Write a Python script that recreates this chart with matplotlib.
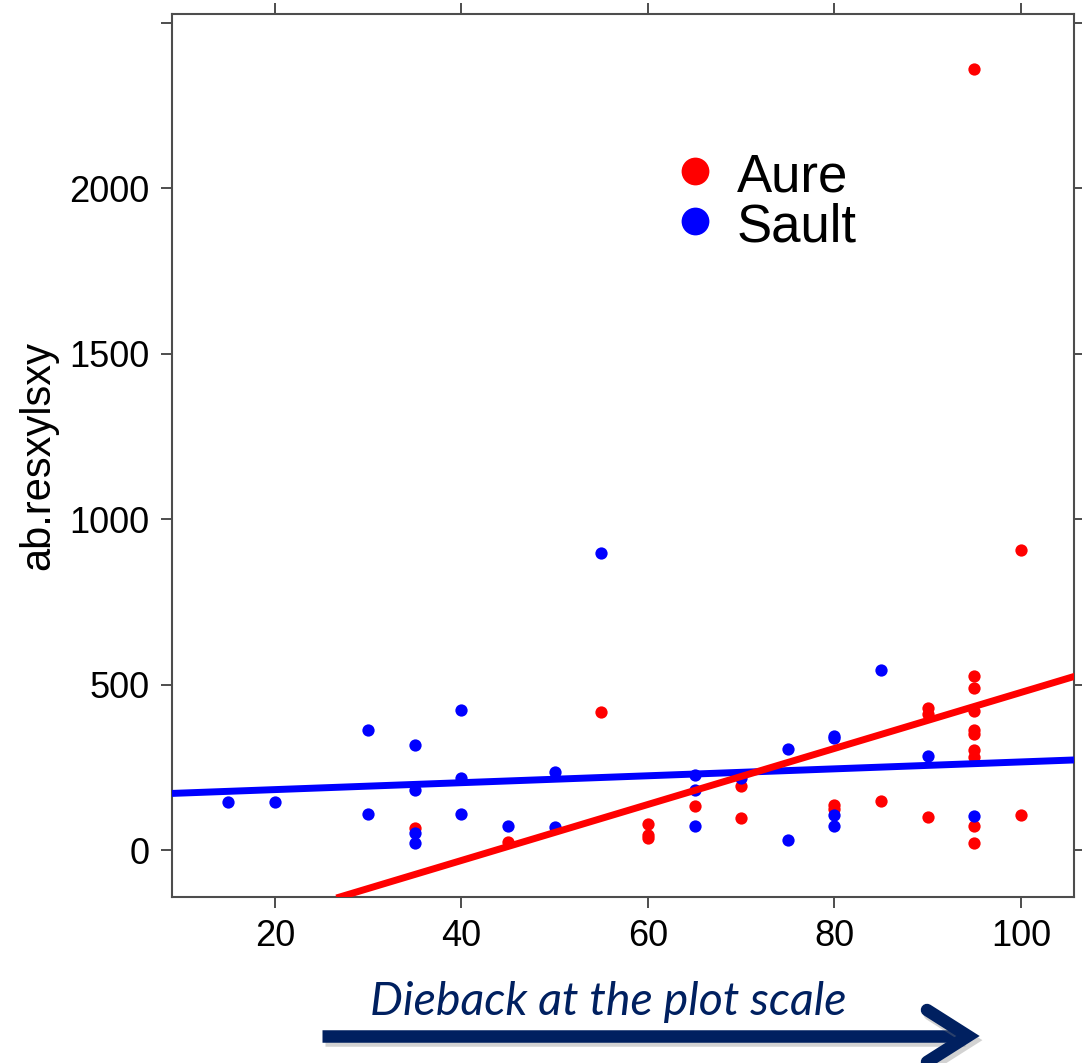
import matplotlib
matplotlib.use("Agg")
from matplotlib import pyplot as plt
from matplotlib.lines import Line2D
import matplotlib.patheffects as pe

plt.rcParams['font.family'] = ['Liberation Sans', 'DejaVu Sans']

# Aure (red)
aure_x = [35, 45, 55, 60, 60, 60, 65, 70, 70, 80, 80, 85, 90, 90, 90,
          95, 95, 95, 95, 95, 95, 95, 95, 95, 95, 100, 100]
aure_y = [65, 25, 418, 80, 45, 35, 134, 194, 97, 136, 125, 147, 429, 412, 100,
          2360, 527, 489, 421, 362, 352, 302, 280, 72, 22, 905, 106]

# Sault (blue)
sault_x = [15, 20, 30, 30, 35, 35, 35, 35, 40, 40, 40, 45, 50, 50, 55,
           65, 65, 65, 70, 75, 75, 80, 80, 80, 80, 85, 90, 95]
sault_y = [145, 145, 362, 109, 317, 181, 52, 22, 423, 217, 109, 72, 236, 69, 897,
           226, 181, 72, 217, 306, 30, 345, 338, 106, 72, 543, 285, 103]

# fitted lines (intercept, slope)
aure_fit = [-370, 8.46]
sault_fit = [161.6, 1.045]

xticks = [20, 40, 60, 80, 100]
yticks = [0, 500, 1000, 1500, 2000, 2500]
ytick_labels = ['0', '500', '1000', '1500', '2000', '']

RED = '#ff0000'
BLUE = '#0000ff'
GREY = '#4d4d4d'

fig = plt.figure(figsize=(10.82, 10.63), dpi=100)
ax = fig.add_axes([172/1082, 1-897/1063, 902/1082, 883/1063])

ax.scatter(aure_x, aure_y, s=78, color=RED, linewidths=0, zorder=2)
ax.scatter(sault_x, sault_y, s=78, color=BLUE, linewidths=0, zorder=2)

ax.set_xlim(8.95, 105.7)
ax.set_ylim(-142, 2526)

ax.axline((0, sault_fit[0]), slope=sault_fit[1], color=BLUE, lw=5, zorder=3)
ax.axline((0, aure_fit[0]), slope=aure_fit[1], color=RED, lw=5, zorder=3)

ax.set_xticks(xticks)
ax.set_yticks(yticks)
ax.set_yticklabels(ytick_labels)
ax.tick_params(direction='out', length=8, width=1.4, color=GREY, labelsize=26, pad=8,
               top=True, right=True, labeltop=False, labelright=False)
for sp in ax.spines.values():
    sp.set_color(GREY)
    sp.set_linewidth(1.5)

ax.set_ylabel('ab.resxylsxy', fontsize=30, labelpad=8)

# legend
for lab, col, yb in [('Aure', RED, 192), ('Sault', BLUE, 242)]:
    ax.plot([(695-172)/902], [(897-(yb-21))/883], 'o', ms=20, color=col, mec='none',
            transform=ax.transAxes, clip_on=False)
    ax.text((737-172)/902, (897-yb)/883, lab, transform=ax.transAxes, fontsize=38,
            va='baseline', ha='left')

# arrow below the axis
NAVY = '#002060'
fx = lambda x: x/1082
fy = lambda y: 1 - y/1063
shadow = [pe.SimpleLineShadow(offset=(2, -3), shadow_color='gray', alpha=0.35), pe.Normal()]
fig.add_artist(Line2D([fx(322), fx(962)], [fy(1036), fy(1036)], lw=9, color=NAVY,
                      solid_capstyle='butt', path_effects=shadow))
fig.add_artist(Line2D([fx(927), fx(968), fx(927)], [fy(1010), fy(1036), fy(1062)], lw=9,
                      color=NAVY, solid_capstyle='round', solid_joinstyle='miter',
                      path_effects=shadow))
fig.text(fx(608), fy(1015), 'Dieback at the plot scale', ha='center', va='baseline',
         fontsize=33.5, style='italic', family=['Lato', 'DejaVu Sans'], color=NAVY)

fig.savefig('out.png', dpi=100)
